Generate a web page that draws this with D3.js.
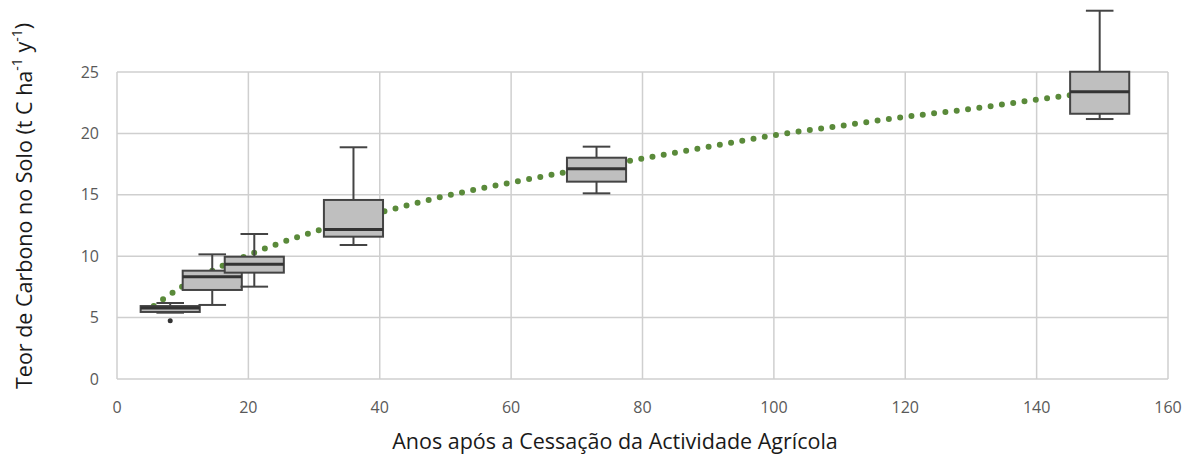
<!DOCTYPE html>
<html>
<head>
<meta charset="utf-8">
<script src="https://cdn.jsdelivr.net/npm/d3@7"></script>
<style>
  html, body { margin: 0; padding: 0; background: #fff; }
  svg { display: block; }
</style>
</head>
<body>
<svg id="chart" width="1196" height="457"></svg>
<script>
// Years after the end of farming (box centres) and soil carbon statistics
const years        = [8.1, 14.5, 20.9, 36.0, 73.0, 149.6];
const whiskerLow   = [5.40, 6.03, 7.52, 10.91, 15.12, 21.17];
const quartile1    = [5.46, 7.25, 8.66, 11.59, 16.07, 21.60];
const medians      = [5.78, 8.33, 9.34, 12.18, 17.12, 23.40];
const quartile3    = [5.94, 8.82, 9.96, 14.58, 18.02, 25.02];
const whiskerHigh  = [6.19, 10.15, 11.81, 18.87, 18.92, 29.99];
const outlierYears = [8.1];
const outlierVals  = [4.75];

// Trend line points (dotted)
const trendYears = [5.6, 7.3, 10, 15, 20, 30, 40, 50, 60, 70, 80, 90, 100, 110, 120, 130, 140, 150];
const trendVals  = [5.95, 6.6, 7.55, 8.95, 10.1, 12.0, 13.55, 14.9, 16.0, 17.0, 17.95, 18.9, 19.85, 20.6, 21.35, 22.0, 22.75, 23.45];

const xTicks = [0, 20, 40, 60, 80, 100, 120, 140, 160];
const yTicks = [0, 5, 10, 15, 20, 25];

const svg = d3.select("#chart");
const x = d3.scaleLinear().domain([0, 160]).range([117, 1168]);
const y = d3.scaleLinear().domain([0, 25]).range([379, 72]);

const font = "'Open Sans', 'Liberation Sans', sans-serif";
const gridColor = "#cfcfcf";

// Gridlines
svg.append("g").selectAll("line").data(yTicks).join("line")
  .attr("x1", x(0)).attr("x2", x(160))
  .attr("y1", d => y(d)).attr("y2", d => y(d))
  .attr("stroke", gridColor).attr("stroke-width", 1.5);
svg.append("g").selectAll("line").data(xTicks).join("line")
  .attr("x1", d => x(d)).attr("x2", d => x(d))
  .attr("y1", y(0)).attr("y2", y(25))
  .attr("stroke", gridColor).attr("stroke-width", 1.5);

// Tick labels
svg.append("g").selectAll("text").data(yTicks).join("text")
  .attr("x", 99).attr("y", d => y(d)).attr("dy", "0.35em")
  .attr("text-anchor", "end")
  .attr("font-family", font).attr("font-size", 16).attr("fill", "#595959")
  .text(d => d);
svg.append("g").selectAll("text").data(xTicks).join("text")
  .attr("x", d => x(d)).attr("y", 407).attr("dy", "0.35em")
  .attr("text-anchor", "middle")
  .attr("font-family", font).attr("font-size", 16).attr("fill", "#595959")
  .text(d => d);

// Dotted trend line
const trendLine = d3.line()
  .x((d, i) => x(trendYears[i]))
  .y(d => y(d))
  .curve(d3.curveMonotoneX);
svg.append("path")
  .attr("d", trendLine(trendVals))
  .attr("fill", "none")
  .attr("stroke", "#5a8a3a")
  .attr("stroke-width", 6)
  .attr("stroke-linecap", "round")
  .attr("stroke-dasharray", "0 11.4");

// Box plots
const halfBox = 4.5, halfCap = 2.1;
const boxColor = "#444";
const boxes = svg.append("g");
years.forEach((yr, i) => {
  const g = boxes.append("g");
  // whisker stems
  g.append("line").attr("x1", x(yr)).attr("x2", x(yr))
    .attr("y1", y(whiskerHigh[i])).attr("y2", y(quartile3[i]))
    .attr("stroke", boxColor).attr("stroke-width", 2);
  g.append("line").attr("x1", x(yr)).attr("x2", x(yr))
    .attr("y1", y(quartile1[i])).attr("y2", y(whiskerLow[i]))
    .attr("stroke", boxColor).attr("stroke-width", 2);
  // caps
  [whiskerHigh[i], whiskerLow[i]].forEach(v => {
    g.append("line").attr("x1", x(yr - halfCap)).attr("x2", x(yr + halfCap))
      .attr("y1", y(v)).attr("y2", y(v))
      .attr("stroke", boxColor).attr("stroke-width", 2);
  });
  // box
  g.append("rect")
    .attr("x", x(yr - halfBox)).attr("width", x(yr + halfBox) - x(yr - halfBox))
    .attr("y", y(quartile3[i])).attr("height", y(quartile1[i]) - y(quartile3[i]))
    .attr("fill", "#bfbfbf").attr("stroke", boxColor).attr("stroke-width", 2);
  // median
  g.append("line").attr("x1", x(yr - halfBox)).attr("x2", x(yr + halfBox))
    .attr("y1", y(medians[i])).attr("y2", y(medians[i]))
    .attr("stroke", "#333").attr("stroke-width", 3);
});

// Outliers
svg.append("g").selectAll("circle").data(outlierVals).join("circle")
  .attr("cx", (d, i) => x(outlierYears[i])).attr("cy", d => y(d))
  .attr("r", 2.5).attr("fill", "#333");

// Axis titles
svg.append("text")
  .attr("x", 615).attr("y", 441).attr("dy", "0.35em")
  .attr("text-anchor", "middle")
  .attr("font-family", font).attr("font-size", 21.5).attr("fill", "#1a1a1a")
  .text("Anos após a Cessação da Actividade Agrícola");

const yTitle = svg.append("text")
  .attr("transform", "translate(24,206) rotate(-90)")
  .attr("dy", "0.35em")
  .attr("text-anchor", "middle")
  .attr("font-family", font).attr("font-size", 21.5).attr("fill", "#1a1a1a");
yTitle.append("tspan").text("Teor de Carbono no Solo (t C ha");
yTitle.append("tspan").attr("font-size", 14).attr("dy", "-0.7em").text("-1");
yTitle.append("tspan").attr("dy", "0.45em").text(" y");
yTitle.append("tspan").attr("font-size", 14).attr("dy", "-0.7em").text("-1");
yTitle.append("tspan").attr("dy", "0.45em").text(")");
</script>
</body>
</html>
